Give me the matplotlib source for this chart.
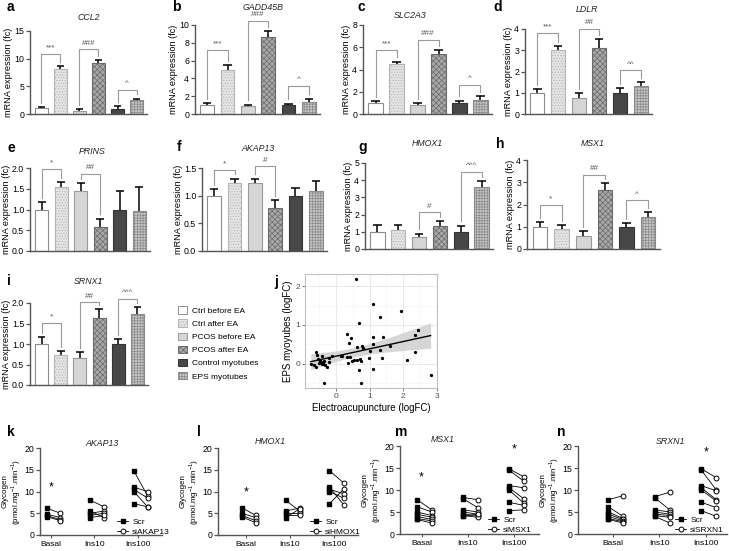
import numpy as np
import matplotlib.pyplot as plt
from matplotlib.patches import Patch
from matplotlib.lines import Line2D

plt.rcParams['font.family'] = ['Liberation Sans', 'DejaVu Sans']
plt.rcParams['mathtext.fontset'] = 'custom'
plt.rcParams['mathtext.rm'] = 'Liberation Sans'
plt.rcParams['hatch.linewidth'] = 0.5

W, H = 729, 551

groups = ["Ctrl before EA", "Ctrl after EA", "PCOS before EA", "PCOS after EA",
          "Control myotubes", "EPS myotubes"]

# bar panels: mean and SEM (fold change)
ccl2 = [1.0, 8.2, 0.6, 9.2, 0.9, 2.5]
ccl2_err = [0.2, 0.5, 0.3, 0.6, 0.5, 0.3]
gadd45b = [1.0, 5.0, 0.85, 8.7, 1.0, 1.4]
gadd45b_err = [0.2, 0.5, 0.2, 0.6, 0.15, 0.3]
slc2a3 = [1.0, 4.45, 0.8, 5.35, 0.95, 1.25]
slc2a3_err = [0.15, 0.25, 0.15, 0.4, 0.25, 0.35]
ldlr = [1.0, 3.0, 0.75, 3.1, 1.0, 1.3]
ldlr_err = [0.17, 0.2, 0.25, 0.42, 0.22, 0.2]
prins = [1.0, 1.55, 1.45, 0.58, 1.0, 0.96]
prins_err = [0.17, 0.12, 0.18, 0.2, 0.45, 0.58]
akap13 = [1.0, 1.23, 1.23, 0.78, 1.0, 1.09]
akap13_err = [0.12, 0.08, 0.08, 0.14, 0.14, 0.17]
hmox1 = [1.0, 1.08, 0.7, 1.32, 0.97, 3.58]
hmox1_err = [0.42, 0.32, 0.2, 0.3, 0.38, 0.38]
msx1 = [1.0, 0.92, 0.58, 2.65, 1.0, 1.42]
msx1_err = [0.2, 0.15, 0.22, 0.3, 0.15, 0.23]
srnx1 = [1.0, 0.74, 0.67, 1.63, 0.99, 1.73]
srnx1_err = [0.17, 0.08, 0.13, 0.22, 0.13, 0.17]

# significance brackets: (bar i, bar j, bracket height, symbol)
ccl2_sig = [(0, 1, 10.8, "***"), (2, 3, 11.7, "###"), (4, 5, 4.4, "^")]
gadd45b_sig = [(0, 1, 7.2, "***"), (2, 3, 10.5, "###"), (4, 5, 3.2, "^")]
slc2a3_sig = [(0, 1, 5.75, "***"), (2, 3, 6.65, "###"), (4, 5, 2.6, "^")]
ldlr_sig = [(0, 1, 3.8, "***"), (2, 3, 4.0, "##"), (4, 5, 2.05, "^^")]
prins_sig = [(0, 1, 1.98, "*"), (2, 3, 1.86, "##")]
akap13_sig = [(0, 1, 1.47, "*"), (2, 3, 1.53, "#")]
hmox1_sig = [(2, 3, 2.13, "#"), (4, 5, 4.48, "^^^")]
msx1_sig = [(0, 1, 1.96, "*"), (2, 3, 3.32, "##"), (4, 5, 2.19, "^")]
srnx1_sig = [(0, 1, 1.51, "*"), (2, 3, 2.02, "##"), (4, 5, 2.1, "^^^")]

# panel j: logFC pairs
ea_logfc = [-0.75, -0.60, -0.56, -0.64, -0.60, -0.50, -0.46, -0.42, -0.38, -0.32,
            -0.28, -0.22, -0.43, -0.20, -0.13, -0.48, -0.36, -0.52, -0.40, -0.37,
            0.15, 0.19, 0.33, 0.43, 0.37, 0.48, 0.54, 0.63, 0.71, 0.74,
            0.39, 0.45, 0.32, 0.62, 0.76, 0.67, 0.58, 0.69, 0.75, 0.98,
            1.00, 1.09, 1.10, 1.11, 1.11, 1.31, 1.32, 1.37, 1.39, 1.61,
            1.94, 2.12, 2.34, 2.35, 2.43, 2.81, 0.80]
eps_logfc = [0.00, 0.30, 0.23, -0.04, -0.07, 0.02, 0.04, -0.01, 0.04, -0.03,
             -0.08, 0.16, 0.19, 0.04, 0.20, 0.09, 0.08, 0.12, 0.00, -0.49,
             0.19, 0.19, 0.18, 0.18, 0.03, 0.08, 0.10, 0.10, 0.13, 0.08,
             0.53, 0.66, 0.76, 0.43, 0.46, 1.04, 2.18, -0.17, -0.50, 0.15,
             0.32, -0.13, 0.51, 0.68, 1.53, 0.35, 1.20, 0.15, 0.68, 0.45,
             1.36, 0.09, 0.73, 0.30, 0.88, -0.28, 0.40]

# glycogen synthesis panels: [Basal, Ins10, Ins100] per condition
conditions = ["Basal", "Ins10", "Ins100"]
k_scr = [[6.2, 4.8, 4.5, 4.2], [8.0, 5.5, 5.0, 4.5, 4.0], [14.8, 11.0, 10.5, 10.0, 7.2]]
k_si = [[5.0, 4.0, 3.5, 3.3], [6.5, 4.0, 5.5, 5.0, 4.5], [9.0, 10.0, 8.5, 6.5, 6.5]]
l_scr = [[6.3, 5.0, 4.5, 4.2], [8.0, 5.5, 5.0, 4.5, 4.0], [14.8, 11.0, 10.5, 10.0, 7.2]]
l_si = [[4.5, 4.0, 3.3, 2.8], [5.5, 6.2, 5.0, 4.5, 6.0], [12.0, 7.0, 9.5, 8.5, 10.5]]
m_scr = [[7.8, 6.2, 5.0, 4.5, 4.0, 3.5, 3.3], [8.3, 8.0, 5.5, 5.0, 4.5, 4.2, 4.0],
         [14.8, 14.5, 11.0, 10.5, 10.0, 7.2, 5.3]]
m_si = [[5.5, 5.0, 4.2, 3.8, 3.3, 3.0, 2.5], [7.8, 6.0, 5.0, 4.5, 4.2, 3.8, 4.5],
        [13.0, 12.0, 10.5, 8.0, 7.0, 6.5, 5.5]]
n_scr = [[7.8, 6.2, 5.0, 4.5, 4.0, 3.5, 3.3], [8.5, 8.2, 5.5, 5.0, 4.5, 4.2, 4.0],
         [14.8, 14.5, 11.0, 10.5, 10.0, 7.2, 5.3]]
n_si = [[8.7, 4.0, 3.5, 3.3, 3.0, 2.8, 2.5], [9.5, 5.5, 5.0, 4.5, 4.2, 3.8, 2.5],
        [12.8, 10.0, 9.8, 7.8, 7.5, 6.0, 4.0]]

# face colour, edge/hatch colour, hatch
bar_style = [("white", "#8c8c8c", None),
             ("#e4e4e4", "#b4b4b4", "......"),
             ("#d6d6d6", "#9a9a9a", None),
             ("#a8a8a8", "#6a6a6a", "xxxxxx"),
             ("#474747", "#333333", None),
             ("#c6c6c6", "#8a8a8a", "++++++")]

fig = plt.figure(figsize=(W / 100, H / 100), dpi=100)


def add_ax(x0, y0, x1, y1):
    return fig.add_axes([x0 / W, 1 - y1 / H, (x1 - x0) / W, (y1 - y0) / H])


def put(x, y, s, **kw):
    fig.text(x / W, 1 - y / H, s, **kw)


def style_spines(ax):
    for side in ["top", "right"]:
        ax.spines[side].set_visible(False)
    for side in ["left", "bottom"]:
        ax.spines[side].set_color("#555555")
        ax.spines[side].set_linewidth(1.0)
    ax.tick_params(axis="y", length=3, width=0.9, color="#555555", labelsize=6.3, pad=1.2)


def bar_panel(box, vals, errs, ymax, step, sigs, fmt="{:.0f}"):
    ax = add_ax(*box)
    x = np.arange(len(vals))
    for i in x:
        face, edge, hatch = bar_style[i]
        ax.bar(i, vals[i], width=0.68, color=face, edgecolor=edge, hatch=hatch,
               linewidth=0.8, zorder=2)
    tops = np.array(vals) + np.array(errs)
    ax.vlines(x, vals, tops, color="black", lw=1.1, zorder=3)
    ax.hlines(tops, x - 0.2, x + 0.2, color="black", lw=1.1, zorder=3)
    gap = 0.05 * ymax
    for i, j, h, s in sigs:
        ax.plot([i, i, j, j], [tops[i] + gap, h, h, tops[j] + gap], color="#9a9a9a",
                lw=0.8, clip_on=False)
        ax.text((i + j) / 2, h + 0.03 * ymax, s, ha="center", va="bottom", fontsize=5.8,
                color="#555555")
    ax.set_xlim(-0.6, len(vals) - 0.45)
    ax.set_ylim(0, ymax)
    ticks = np.arange(0, ymax + step / 2, step)
    ax.set_yticks(ticks)
    ax.set_yticklabels([fmt.format(t) for t in ticks])
    ax.set_xticks([])
    style_spines(ax)
    ax.set_ylabel("mRNA expression (fc)", fontsize=6.6, labelpad=1)
    return ax


def glyco_panel(box, xlim, scr, si, stars, si_name, leg_xy):
    ax = add_ax(*box)
    for g in range(len(conditions)):
        for a, b in zip(scr[g], si[g]):
            ax.plot([g - 0.1, g + 0.22], [a, b], color="black", lw=0.6, zorder=2)
        ax.plot(np.full(len(scr[g]), g - 0.1), scr[g], "s", color="black", ms=3.3, zorder=3)
        ax.plot(np.full(len(si[g]), g + 0.22), si[g], "o", mfc="white", mec="black",
                mew=0.7, ms=3.5, zorder=3)
    for g, y in stars:
        ax.text(g, y, "*", ha="center", va="center", fontsize=9)
    ax.set_xlim(*xlim)
    ax.set_ylim(0, 20)
    ax.set_yticks([0, 5, 10, 15, 20])
    ax.set_xticks(range(len(conditions)))
    ax.set_xticklabels(conditions, fontsize=6)
    style_spines(ax)
    ax.tick_params(axis="x", length=2, width=0.8, color="#555555", pad=2)
    ax.set_ylabel("Glycogen\n(pmol.mg$^{-1}$.min$^{-1}$)", fontsize=5.8, labelpad=1,
                  linespacing=1.05)
    handles = [Line2D([], [], color="black", lw=0.6, marker="s", ms=3.3),
               Line2D([], [], color="black", lw=0.6, marker="o", mfc="white", ms=3.5, mew=0.7)]
    ax.legend(handles, ["Scr", si_name], loc="lower left", frameon=False, fontsize=6,
              bbox_to_anchor=(leg_xy[0] / W, 1 - leg_xy[1] / H),
              bbox_transform=fig.transFigure, borderpad=0, handlelength=1.3,
              handletextpad=0.5, labelspacing=0.3)
    return ax


# row 1
bar_panel((30, 31, 147, 114), ccl2, ccl2_err, 15, 5, ccl2_sig)
bar_panel((195, 25, 320, 114), gadd45b, gadd45b_err, 10, 2, gadd45b_sig)
bar_panel((363, 25, 492, 114), slc2a3, slc2a3_err, 8, 2, slc2a3_sig)
bar_panel((525, 29, 652, 114), ldlr, ldlr_err, 4, 1, ldlr_sig)
# row 2
bar_panel((30, 168, 150, 251), prins, prins_err, 2, 0.5, prins_sig, "{:.1f}")
bar_panel((202, 168, 327, 251), akap13, akap13_err, 1.5, 0.5, akap13_sig, "{:.1f}")
bar_panel((365, 163, 493, 249), hmox1, hmox1_err, 5, 1, hmox1_sig)
bar_panel((527, 160, 660, 249), msx1, msx1_err, 4, 1, msx1_sig)
# row 3
bar_panel((30, 303, 148, 385), srnx1, srnx1_err, 2, 0.5, srnx1_sig, "{:.1f}")

legend_patches = [Patch(facecolor=f, edgecolor=e, hatch=h, linewidth=0.7)
                  for f, e, h in bar_style]
fig.legend(legend_patches, groups, loc="upper left", bbox_to_anchor=(174 / W, 1 - 302 / H),
           frameon=False, fontsize=6, handlelength=1.0, handleheight=1.0,
           handletextpad=0.6, labelspacing=0.55, borderpad=0)

# panel j
ax = add_ax(305, 274, 437, 388)
x = np.array(ea_logfc)
y = np.array(eps_logfc)
coef = np.polyfit(x, y, 1)
xs = np.linspace(x.min(), x.max(), 100)
fit = np.polyval(coef, xs)
n = len(x)
resid = y - np.polyval(coef, x)
s = np.sqrt(resid @ resid / (n - 2))
se = s * np.sqrt(1 / n + (xs - x.mean()) ** 2 / ((x - x.mean()) ** 2).sum())
ax.fill_between(xs, fit - 2.0 * se, fit + 2.0 * se, color="#cfcfcf", alpha=0.85, lw=0, zorder=2)
ax.plot(xs, fit, color="black", lw=1.0, zorder=3)
ax.scatter(x, y, s=1.8, color="black", zorder=4)
ax.set_xlim(-0.92, 3.0)
ax.set_ylim(-0.62, 2.31)
ax.set_xticks([0, 1, 2, 3])
ax.set_yticks([0, 1, 2])
ax.set_xticks([-0.5, 0.5, 1.5, 2.5], minor=True)
ax.set_yticks([-0.5, 0.5, 1.5], minor=True)
ax.grid(which="major", color="#e6e6e6", lw=0.6, zorder=0)
ax.grid(which="minor", color="#f3f3f3", lw=0.4, zorder=0)
ax.set_axisbelow(True)
ax.tick_params(which="major", length=2, width=0.6, color="#666666", labelsize=6,
               labelcolor="#4d4d4d", pad=1.5)
ax.tick_params(which="minor", length=0)
for sp in ax.spines.values():
    sp.set_color("#c0c0c0")
    sp.set_linewidth(0.8)
ax.set_xlabel("Electroacupuncture (logFC)", fontsize=7, labelpad=2)
ax.set_ylabel("EPS myoyubes (logFC)", fontsize=7, labelpad=2)

# row 4
glyco_panel((40, 448, 162, 535), (-0.25, 2.55), k_scr, k_si, [(0, 11.0)], "siAKAP13", (113, 540))
glyco_panel((218, 448, 358, 535), (-0.64, 2.55), l_scr, l_si, [(0, 9.8)], "siHMOX1", (306, 540))
glyco_panel((400, 446, 539, 534), (-0.47, 2.55), m_scr, m_si, [(0, 12.8), (2, 19.2)],
            "siMSX1", (484, 538))
glyco_panel((578, 446, 727, 534), (-0.75, 2.45), n_scr, n_si, [(2, 18.6)], "siSRXN1", (671, 538))

# titles
titles = [("CCL2", 89, 17), ("GADD45B", 263, 7), ("SLC2A3", 410, 15), ("LDLR", 587, 9),
          ("PRINS", 92, 152), ("AKAP13", 258, 148), ("HMOX1", 427, 143), ("MSX1", 593, 143),
          ("SRNX1", 88, 282), ("AKAP13", 102, 444), ("HMOX1", 270, 442), ("MSX1", 443, 440),
          ("SRXN1", 670, 442)]
for t, tx, ty in titles:
    put(tx, ty, t, ha="center", va="center", fontsize=6.3, style="italic", color="#222222")

letters = [("a", 7, 7), ("b", 172, 7), ("c", 358, 7), ("d", 493, 7), ("e", 7, 148),
           ("f", 177, 147), ("g", 358, 147), ("h", 496, 144), ("i", 7, 281), ("j", 274, 282),
           ("k", 7, 432), ("l", 197, 432), ("m", 395, 432), ("n", 557, 432)]
for t, tx, ty in letters:
    put(tx, ty, t, ha="left", va="center", fontsize=10, fontweight="bold")

fig.savefig("out.png", dpi=100, facecolor="white")
